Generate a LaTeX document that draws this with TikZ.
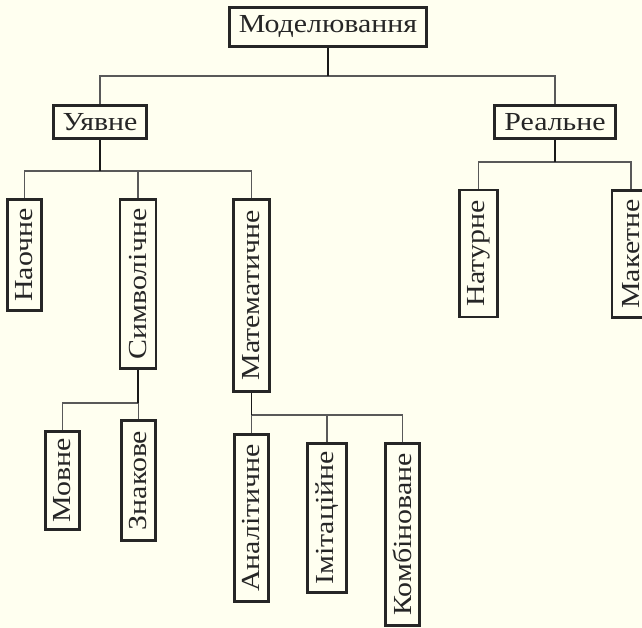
\documentclass[tikz,border=0pt]{standalone}
\usepackage{fontspec}
\setmainfont{Liberation Serif}[FakeStretch=1.15]
\definecolor{paper}{RGB}{255,255,240}

\tikzset{
    box/.style={draw=black!85, line width=2.4pt, inner sep=0pt,
        font=\fontsize{26}{30}\selectfont, text=black!85},
    vbox/.style={box, rotate=90},
    stem/.style={line width=1.8pt, black!90},
    link/.style={line width=1.1pt, black!65}
}

\begin{document}
\begin{tikzpicture}[x=1pt, y=-1pt]
            \fill[paper] (0,0) rectangle (642,628);
            \useasboundingbox (0,0) rectangle (642,628);

            % top levels
            \node[box, minimum width=197, minimum height=39] (model) at (328,27) {Моделювання};
            \node[box, minimum width=93, minimum height=33] (uyavne) at (100,122) {Уявне};
            \node[box, minimum width=121, minimum height=33] (realne) at (555,122) {Реальне};

            % rotated leaves
            \node[vbox, minimum width=111, minimum height=34] (naochne) at (24.5,255) {Наочне};
            \node[vbox, minimum width=169, minimum height=36] (symvol) at (138,284) {Символічне};
            \node[vbox, minimum width=192, minimum height=36] (matem) at (251.5,295.5) {Математичне};
            \node[vbox, minimum width=127, minimum height=38] (naturne) at (478.5,253.5) {Натурне};
            \node[vbox, minimum width=127, minimum height=38] (maketne) at (631,254) {Макетне};
            \node[vbox, minimum width=98, minimum height=34] (movne) at (62.5,480.5) {Мовне};
            \node[vbox, minimum width=120, minimum height=34] (znakove) at (138.5,480.5) {Знакове};
            \node[vbox, minimum width=167, minimum height=34] (analit) at (251.5,518) {Аналітичне};
            \node[vbox, minimum width=149, minimum height=39] (imitac) at (327,518) {Імітаційне};
            \node[vbox, minimum width=182, minimum height=34] (kombin) at (402.5,534.5) {Комбіноване};

            \coordinate (jmod) at (328,76);
            \coordinate (juy) at (100,171);
            \coordinate (jre) at (555,162);
            \coordinate (jsym) at (138,403);
            \coordinate (jmat) at (251.5,415);

            \draw[link] (jmod) -| (uyavne.north);
            \draw[link] (jmod) -| (realne.north);
            \draw[link] (juy) -| (naochne.east);
            \draw[link] (juy) -| (symvol.east);
            \draw[link] (juy) -| (matem.east);
            \draw[link] (jre) -| (naturne.east);
            \draw[link] (jre) -| (maketne.east);
            \draw[link] (jsym) -| (movne.east);
            \draw[link] (jsym) -| (znakove.east);
            \draw[link] (jmat) -| (analit.east);
            \draw[link] (jmat) -| (imitac.east);
            \draw[link] (jmat) -| (kombin.east);

            \draw[stem] (model.south) -- (jmod);
            \draw[stem] (uyavne.south) -- (juy);
            \draw[stem] (realne.south) -- (jre);
            \draw[stem] (symvol.west) -- (jsym);
            \draw[stem] (matem.west) -- (jmat);
        \end{tikzpicture}
\end{document}
